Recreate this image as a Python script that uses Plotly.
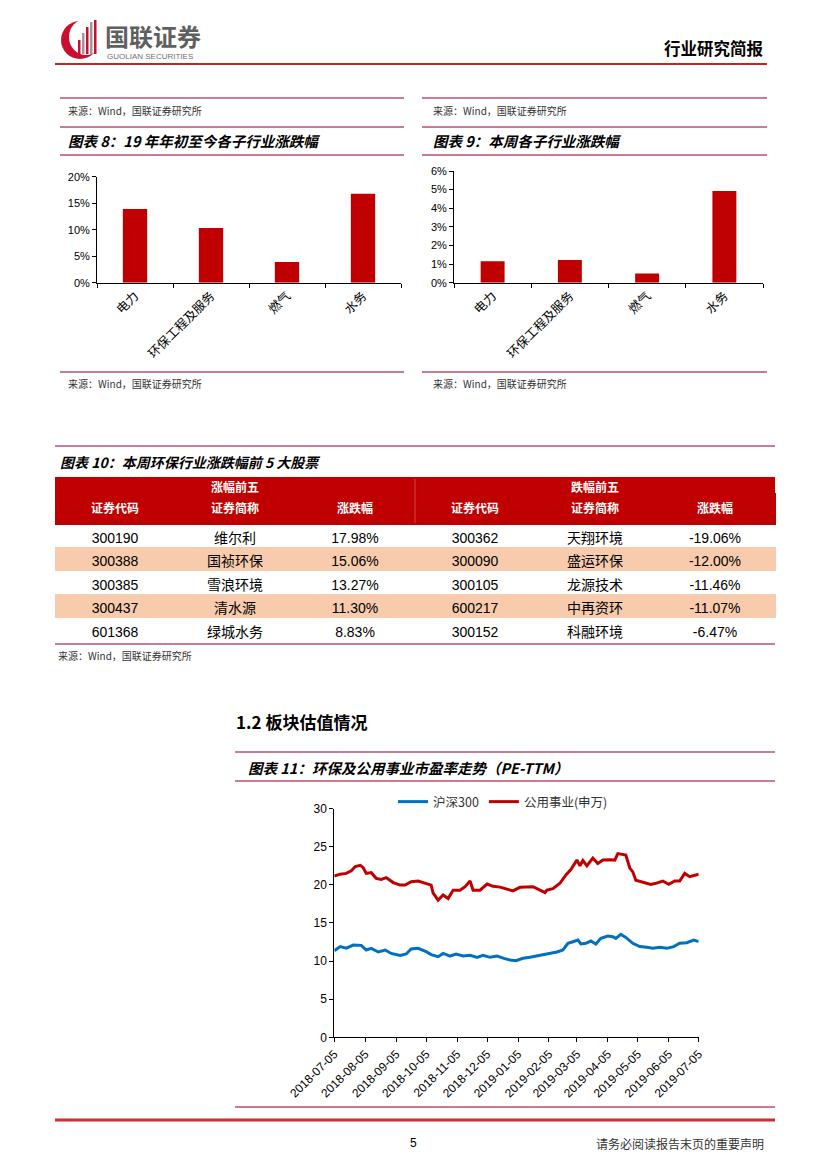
import plotly.graph_objects as go

# ---------------- data ----------------
sub_industries = ["电力", "环保工程及服务", "燃气", "水务"]
ytd_change = [13.9, 10.3, 3.9, 16.8]          # 图表8 (%)
week_change = [1.15, 1.22, 0.5, 4.93]         # 图表9 (%)

table_groups = ["涨幅前五", "跌幅前五"]
table_columns = ["证券代码", "证券简称", "涨跌幅"]
up_codes = ["300190", "300388", "300385", "300437", "601368"]
up_names = ["维尔利", "国祯环保", "雪浪环境", "清水源", "绿城水务"]
up_chg = [17.98, 15.06, 13.27, 11.30, 8.83]
down_codes = ["300362", "300090", "300105", "600217", "300152"]
down_names = ["天翔环境", "盛运环保", "龙源技术", "中再资环", "科融环境"]
down_chg = [-19.06, -12.00, -11.46, -11.07, -6.47]

util_dates = ["2018-07-05", "2018-07-11", "2018-07-17", "2018-07-22", "2018-07-26", "2018-07-31",
              "2018-08-03", "2018-08-06", "2018-08-11", "2018-08-16", "2018-08-21", "2018-08-26",
              "2018-09-02", "2018-09-09", "2018-09-14", "2018-09-20", "2018-09-27", "2018-10-05",
              "2018-10-10", "2018-10-12", "2018-10-17", "2018-10-22", "2018-10-27", "2018-11-01",
              "2018-11-08", "2018-11-13", "2018-11-18", "2018-11-21", "2018-11-28", "2018-12-05",
              "2018-12-11", "2018-12-18", "2018-12-25", "2018-12-31", "2019-01-07", "2019-01-14",
              "2019-01-20", "2019-01-27", "2019-02-01", "2019-02-03", "2019-02-09", "2019-02-16",
              "2019-02-22", "2019-02-27", "2019-03-05", "2019-03-08", "2019-03-11", "2019-03-15",
              "2019-03-21", "2019-03-26", "2019-03-31", "2019-04-07", "2019-04-12", "2019-04-15",
              "2019-04-18", "2019-04-23", "2019-04-27", "2019-04-30", "2019-05-03", "2019-05-08",
              "2019-05-13", "2019-05-18", "2019-05-23", "2019-05-30", "2019-06-05", "2019-06-11",
              "2019-06-16", "2019-06-21", "2019-06-26", "2019-07-01", "2019-07-05"]
util_pe = [21.15, 21.4, 21.5, 21.85, 22.4, 22.55,
           22.25, 21.5, 21.6, 20.85, 20.7, 20.95,
           20.3, 19.97, 19.97, 20.4, 20.5, 20.2,
           19.97, 18.9, 18.0, 18.66, 18.2, 19.3,
           19.3, 19.75, 20.5, 19.3, 19.3, 20.1,
           19.8, 19.7, 19.4, 19.2, 19.67, 19.67,
           19.75, 19.3, 18.97, 19.3, 19.5, 20.2,
           21.3, 22.0, 23.25, 22.5, 23.2, 22.5,
           23.5, 22.8, 23.25, 23.3, 23.25, 24.1,
           24.0, 23.9, 22.2, 21.7, 20.6, 20.4,
           20.2, 20.06, 20.2, 20.5, 20.06, 20.5,
           20.5, 21.5, 21.07, 21.3, 21.4]

hs_dates = ["2018-07-05", "2018-07-11", "2018-07-17", "2018-07-24", "2018-08-01", "2018-08-06",
            "2018-08-11", "2018-08-18", "2018-08-25", "2018-08-31", "2018-09-09", "2018-09-15",
            "2018-09-20", "2018-09-27", "2018-10-05", "2018-10-10", "2018-10-17", "2018-10-22",
            "2018-10-29", "2018-11-04", "2018-11-11", "2018-11-18", "2018-11-25", "2018-12-01",
            "2018-12-08", "2018-12-15", "2018-12-22", "2018-12-28", "2019-01-03", "2019-01-10",
            "2019-01-17", "2019-01-24", "2019-01-30", "2019-02-06", "2019-02-13", "2019-02-19",
            "2019-02-24", "2019-03-01", "2019-03-06", "2019-03-09", "2019-03-14", "2019-03-19",
            "2019-03-24", "2019-03-29", "2019-04-05", "2019-04-10", "2019-04-13", "2019-04-18",
            "2019-04-23", "2019-04-30", "2019-05-07", "2019-05-14", "2019-05-20", "2019-05-27",
            "2019-06-03", "2019-06-10", "2019-06-16", "2019-06-23", "2019-06-30", "2019-07-05"]
hs_pe = [11.36, 11.9, 11.7, 12.1, 12.06, 11.45,
         11.67, 11.19, 11.45, 11.0, 10.75, 10.93,
         11.58, 11.67, 11.23, 10.84, 10.58, 11.0,
         10.66, 10.93, 10.66, 10.75, 10.49, 10.75,
         10.49, 10.66, 10.36, 10.14, 10.05, 10.36,
         10.49, 10.66, 10.84, 11.0, 11.19, 11.45,
         12.33, 12.54, 12.76, 12.24, 12.33, 12.63,
         12.24, 12.98, 13.29, 13.2, 12.98, 13.5,
         13.1, 12.33, 11.9, 11.8, 11.67, 11.8,
         11.67, 11.9, 12.33, 12.41, 12.76, 12.54]

month_ticks = ["2018-07-05", "2018-08-05", "2018-09-05", "2018-10-05", "2018-11-05", "2018-12-05",
               "2019-01-05", "2019-02-05", "2019-03-05", "2019-04-05", "2019-05-05", "2019-06-05",
               "2019-07-05"]

# ---------------- helpers (page pixel -> paper) ----------------
OFF = 8                     # default page body margin
W, H = 827 - OFF, 1169 - OFF
def px(x):
    return (x - OFF) / W
def py(y):
    return 1 - (y - OFF) / H

RED = "#C00000"
BLUE = "#0070C0"
LINEC = "#B9506E"
CJK = "Noto Sans CJK SC"
ARIAL = "Liberation Sans, Arial, Noto Sans CJK SC"

fig = go.Figure()

# 图表8
fig.add_trace(go.Bar(x=sub_industries, y=ytd_change, marker_color=RED, width=0.32,
                     xaxis="x", yaxis="y", showlegend=False))
# 图表9
fig.add_trace(go.Bar(x=sub_industries, y=week_change, marker_color=RED, width=0.31,
                     xaxis="x2", yaxis="y2", showlegend=False))
# 图表11
fig.add_trace(go.Scatter(x=hs_dates, y=hs_pe, mode="lines", name="沪深300",
                         line=dict(color=BLUE, width=3), xaxis="x3", yaxis="y3"))
fig.add_trace(go.Scatter(x=util_dates, y=util_pe, mode="lines", name="公用事业(申万)",
                         line=dict(color=RED, width=3), xaxis="x3", yaxis="y3"))

# 图表10 table
WHITE = "#FFFFFF"
PEACH = "#F7CBAC"
row_fill = [WHITE, PEACH, WHITE, PEACH, WHITE]

def fmt(v):
    return f"{v:.2f}%"

col_values = [up_codes, up_names, [fmt(v) for v in up_chg],
              down_codes, down_names, [fmt(v) for v in down_chg]]
fig.add_trace(go.Table(
    domain=dict(x=[px(55), px(775)], y=[py(655), py(493)]),
    header=dict(values=[f"<b>{c}</b>" for c in table_columns * 2],
                fill_color=RED, line_color=RED, align="center", height=23,
                font=dict(color=WHITE, size=12, family=ARIAL)),
    cells=dict(values=col_values, align="center", height=23.5,
               fill_color=[row_fill] * 6, line_color=[row_fill] * 6,
               font=dict(color="#000000", size=14, family=ARIAL)),
))

axis_common = dict(showline=True, linecolor="#000000", linewidth=1, showgrid=False,
                   zeroline=False, ticks="outside", ticklen=4, tickcolor="#000000",
                   automargin=False)
num_font = dict(family=ARIAL, size=11, color="#000000")
num_font12 = dict(family=ARIAL, size=12, color="#000000")
cjk_font = dict(family=CJK, size=12.5, color="#000000")

fig.update_layout(
    template="none",
    width=W, height=H, margin=dict(l=0, r=0, t=0, b=0, pad=0, autoexpand=False),
    paper_bgcolor="white", plot_bgcolor="white",
    xaxis=dict(domain=[px(97), px(401)], anchor="y", type="category", tickson="boundaries",
               tickangle=-45, range=[-0.5, 3.5], tickfont=cjk_font, **axis_common),
    yaxis=dict(domain=[py(282.7), py(176.7)], anchor="x", range=[0, 20], dtick=5,
               ticksuffix="%", tickfont=num_font, **axis_common),
    xaxis2=dict(domain=[px(454), px(763)], anchor="y2", type="category", tickson="boundaries",
                tickangle=-45, range=[-0.5, 3.5], tickfont=cjk_font, **axis_common),
    yaxis2=dict(domain=[py(282.7), py(171)], anchor="x2", range=[0, 6], dtick=1,
                ticksuffix="%", tickfont=num_font, **axis_common),
    xaxis3=dict(domain=[px(334.3), px(698.7)], anchor="y3", type="date",
                range=["2018-07-05", "2019-07-05"], tickvals=month_ticks, ticktext=month_ticks,
                tickangle=-45, tickfont=num_font12, **axis_common),
    yaxis3=dict(domain=[py(1037.3), py(808.6)], anchor="x3", range=[0, 30], dtick=5,
                tickfont=num_font12, **axis_common),
    legend=dict(orientation="h", x=px(393), xanchor="left", y=py(802), yanchor="middle",
                font=dict(family=CJK, size=12.5, color="#333333"), bgcolor="rgba(0,0,0,0)",
                itemwidth=30),
    bargap=0.6,
)

shapes = []
def hline(y, x0, x1, color=LINEC, width=1.5):
    shapes.append(dict(type="line", xref="paper", yref="paper", x0=px(x0), x1=px(x1),
                       y0=py(y), y1=py(y), line=dict(color=color, width=width)))

hline(64, 55, 767, color="#C0281E", width=2)
for y in (98, 127, 155, 372):
    hline(y, 60, 404)
    hline(y, 422, 767)
hline(446, 55, 775)
hline(644, 55, 775)
hline(752, 235, 775)
hline(781, 235, 775)
hline(1107, 235, 775)
hline(1120, 55, 775, color="#C9302C", width=3)

# table group row (merged header cells)
shapes.append(dict(type="rect", xref="paper", yref="paper", x0=px(55), x1=px(775),
                   y0=py(498), y1=py(477), fillcolor=RED, line=dict(width=0), layer="below"))
# faint separator between the two groups
shapes.append(dict(type="line", xref="paper", yref="paper", x0=px(415), x1=px(415),
                   y0=py(523), y1=py(479), line=dict(color="#D24848", width=1)))

# logo mark
shapes.append(dict(type="circle", xref="paper", yref="paper", x0=px(61), x1=px(99), y0=py(59), y1=py(21),
                   fillcolor="#C8102E", line=dict(width=0)))
shapes.append(dict(type="circle", xref="paper", yref="paper", x0=px(69), x1=px(103), y0=py(55), y1=py(19),
                   fillcolor="white", line=dict(width=0)))
for (bx, top, col) in [(78, 40, "#C8102E"), (82, 33, "#9A9A9A"), (86, 27, "#C8102E"), (90, 22, "#9A9A9A"), (94, 20, "#C8102E")]:
    shapes.append(dict(type="rect", xref="paper", yref="paper", x0=px(bx), x1=px(bx + 2.5),
                       y0=py(54), y1=py(top), fillcolor=col, line=dict(width=0)))
fig.update_layout(shapes=shapes)

anns = []
def text(x, y, s, size=10, color="#000000", family=CJK, xanchor="left"):
    anns.append(dict(x=px(x), y=py(y), xref="paper", yref="paper", text=s, showarrow=False,
                     xanchor=xanchor, yanchor="middle", font=dict(size=size, color=color, family=family)))

text(103, 36, "<b>国联证券</b>", size=24, color="#5F5F5F")
text(105, 56, "GUOLIAN SECURITIES", size=8, color="#6F6F6F", family=ARIAL)
text(766, 48, "<b>行业研究简报</b>", size=16.5, xanchor="right")

text(235, 486, f"<b>{table_groups[0]}</b>", size=12, color=WHITE, xanchor="center")
text(595, 486, f"<b>{table_groups[1]}</b>", size=12, color=WHITE, xanchor="center")

src = "来源：Wind，国联证券研究所"
text(66, 110, src, size=10, color="#333333")
text(431, 110, src, size=10, color="#333333")
text(66, 383, src, size=10, color="#333333")
text(431, 383, src, size=10, color="#333333")
text(56, 655, src, size=10, color="#333333")

text(66, 141, "<b><i>图表 8：19 年年初至今各子行业涨跌幅</i></b>", size=14.5)
text(431, 141, "<b><i>图表 9：本周各子行业涨跌幅</i></b>", size=14.5)
text(58, 462, "<b><i>图表 10：本周环保行业涨跌幅前 5 大股票</i></b>", size=14)
text(234, 721, "<b>1.2 板块估值情况</b>", size=17)
text(246, 767, "<b><i>图表 11：环保及公用事业市盈率走势（PE-TTM）</i></b>", size=14.5)
text(413, 1143, "5", size=12, family=ARIAL, xanchor="center")
text(766, 1143, "请务必阅读报告末页的重要声明", size=12, color="#333333", xanchor="right")

fig.update_layout(annotations=anns)
fig.write_html("out.html")
